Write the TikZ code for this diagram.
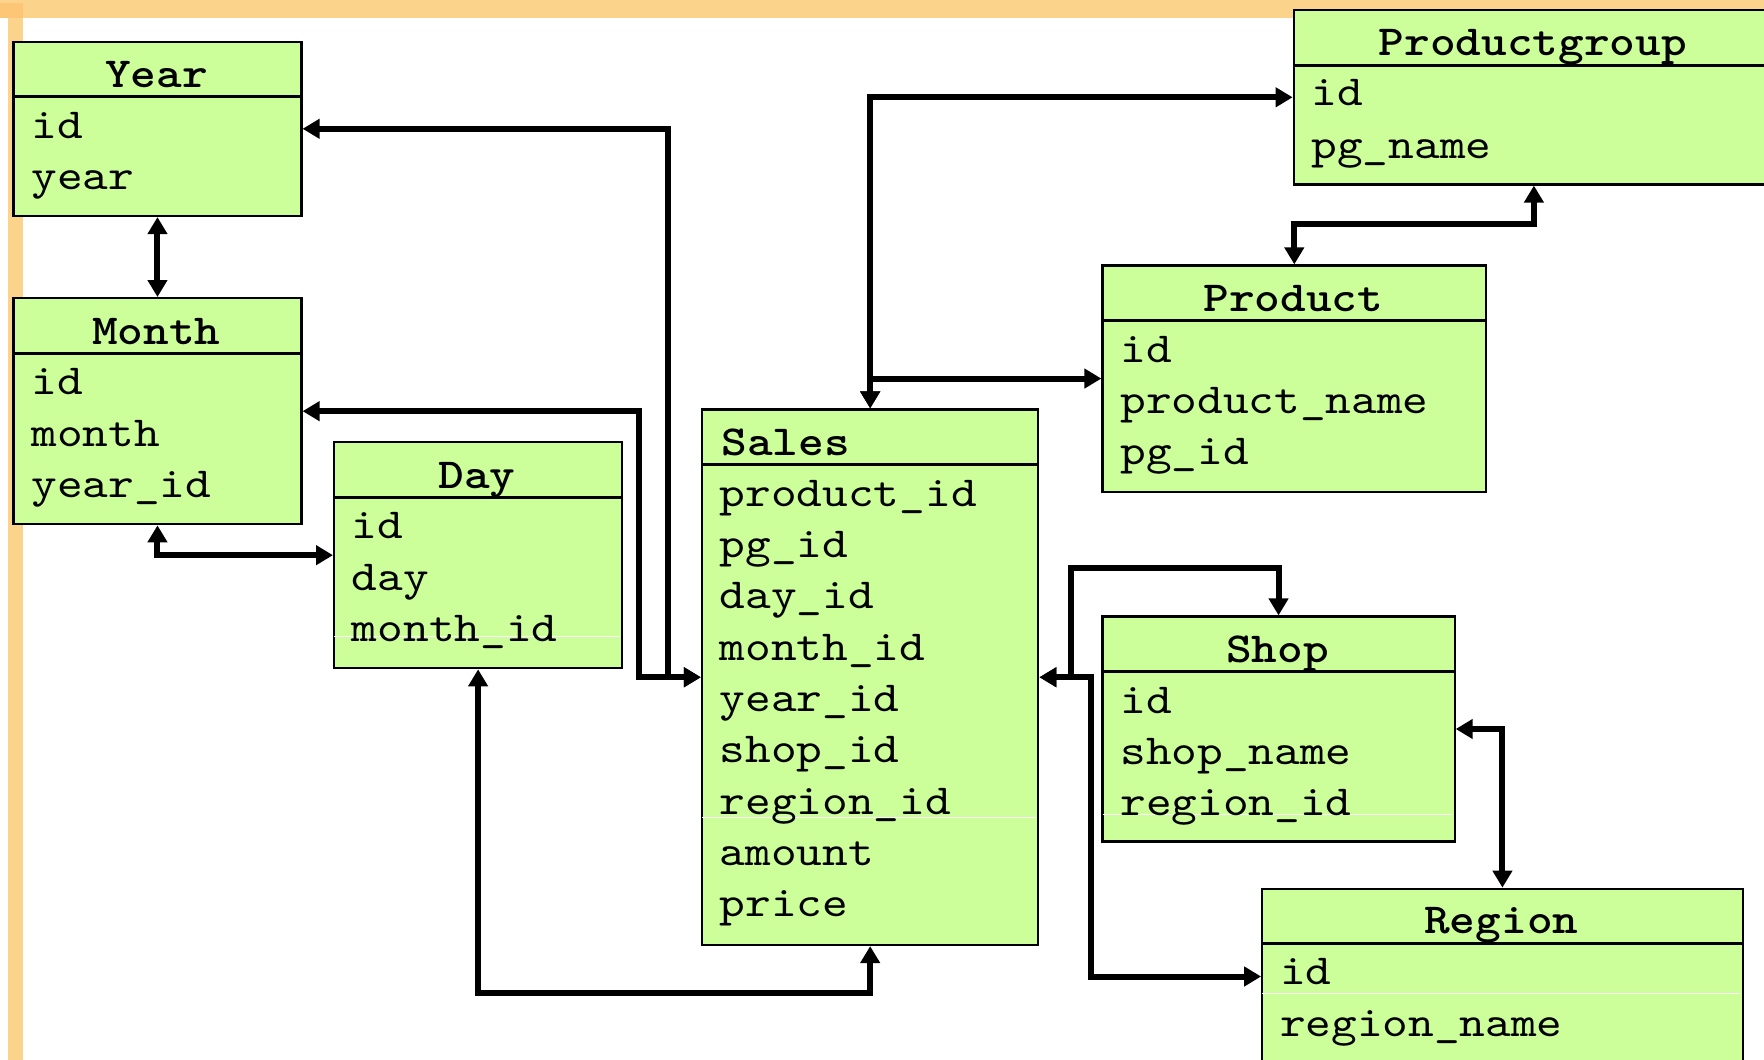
\documentclass[tikz,border=0pt]{standalone}
\usepackage{fontspec}
\usetikzlibrary{arrows.meta,calc}
\newfontfamily\courfont{lmmono10-regular.otf}[BoldFont=lmmonolt10-bold.otf,FakeStretch=1.143]
\definecolor{boxgreen}{HTML}{CCFF99}
\definecolor{frameorange}{HTML}{FBD38B}
\def\pxu{0.5625pt}
\begin{document}
\begin{tikzpicture}[x=0.5625pt,y=-0.5625pt,
  tbl/.style={draw=black,fill=boxgreen,line width=1.1pt,inner sep=0pt,anchor=north west,rectangle},
  hdrline/.style={line width=1.5pt},
  artline/.style={white,line width=0.5pt},
  conn/.style={line width=3pt,{Triangle[width=9.5pt,length=8.5pt]}-{Triangle[width=9.5pt,length=8.5pt]}},
  ttl/.style={anchor=base,inner sep=0pt,font=\fontsize{21.4}{26}\selectfont\courfont\bfseries},
  ttlw/.style={anchor=base west,inner sep=0pt,font=\fontsize{21.4}{26}\selectfont\courfont\bfseries},
  fld/.style={anchor=base west,inner sep=0pt,font=\fontsize{21.4}{26}\selectfont\courfont},
]
\useasboundingbox (0,0) rectangle (1568,942);
\clip (0,0) rectangle (1568,942);
\fill[white] (0,0) rectangle (1568,942);
% orange frame
\fill[frameorange] (0,0) rectangle (1568,16);
\fill[frameorange] (7,0) rectangle (20,942);
\fill[frameorange!85!orange] (0,3) rectangle (20,16);

% boxes
\node[tbl,minimum width=256*\pxu,minimum height=155*\pxu] (year) at (11,36) {};
\node[tbl,minimum width=256*\pxu,minimum height=201*\pxu] (month) at (11,264) {};
\node[tbl,minimum width=256*\pxu,minimum height=201*\pxu] (day) at (296,392) {};
\node[tbl,minimum width=299*\pxu,minimum height=476*\pxu] (sales) at (623,363) {};
\node[tbl,minimum width=427*\pxu,minimum height=155*\pxu] (pg) at (1149,8) {};
\node[tbl,minimum width=341*\pxu,minimum height=201*\pxu] (product) at (979,235) {};
\node[tbl,minimum width=313*\pxu,minimum height=200*\pxu] (shop) at (979,547) {};
\node[tbl,minimum width=427*\pxu,minimum height=156*\pxu] (region) at (1121,789) {};

% header lines
\foreach \b in {year,month,day,sales,pg,product,shop,region}
  \draw[hdrline] ($(\b.north west)+(0,50)$) -- ($(\b.north east)+(0,50)$);

% faint white artefact lines
\draw[artline] (297,566) -- (551,566);
\draw[artline] (624,727) -- (921,727);
\draw[artline] (980,724) -- (1291,724);
\draw[artline] (1122,883) -- (1547,883);

% titles
\node[ttl] (year-t) at (139,78) {Year};
\node[ttl] (month-t) at (139,306) {Month};
\node[ttl] (day-t) at (424,434) {Day};
\node[ttlw] (sales-t) at (641,405) {Sales};
\node[ttl] (pg-t) at (1362.5,49) {Productgroup};
\node[ttl] (product-t) at (1149.5,277) {Product};
\node[ttl] (shop-t) at (1135.5,589) {Shop};
\node[ttl] (region-t) at (1334.5,830) {Region};

% fields
\foreach \t [count=\i] in {id,year}
  \node[fld] (year-\i) at (27.5,{123.5+(\i-1)*44.5}) {\t};
\foreach \t [count=\i] in {id,month,year\_id}
  \node[fld] (month-\i) at (27.5,{351+(\i-1)*45.6}) {\t};
\foreach \t [count=\i] in {id,day,month\_id}
  \node[fld] (day-\i) at (312.5,{479+(\i-1)*45.6}) {\t};
\foreach \t [count=\i] in {product\_id,pg\_id,day\_id,month\_id,year\_id,shop\_id,region\_id,amount,price}
  \node[fld] (sales-\i) at (639.5,{450+(\i-1)*45.6}) {\t};
\foreach \t [count=\i] in {id,pg\_name}
  \node[fld] (pg-\i) at (1165.5,{94+(\i-1)*46.5}) {\t};
\foreach \t [count=\i] in {id,product\_name,pg\_id}
  \node[fld] (product-\i) at (995.5,{322+(\i-1)*45.6}) {\t};
\foreach \t [count=\i] in {id,shop\_name,region\_id}
  \node[fld] (shop-\i) at (995.5,{634+(\i-1)*45.6}) {\t};
\foreach \t [count=\i] in {id,region\_name}
  \node[fld] (region-\i) at (1137.5,{875+(\i-1)*46}) {\t};

% connectors
\draw[conn] (year.south) -- (month.north);
\draw[conn] (year.east) -| ($(sales.west)+(-29,0)$) -- (sales.west);
\draw[conn] (month.east) -| ($(sales.west)+(-55,0)$) -- (sales.west);
\draw[conn] (month.south) |- (day.west);
\draw[conn] (day.south) -- ++(0,288) -| (sales.south);
\draw[conn] (sales.north) |- (pg.west);
\draw[conn] (sales.north) |- (product.west);
\draw[conn] (product.north) -- ++(0,-36) -| (pg.south);
\draw[conn] (sales.east) -- ++(28,0) |- ($(shop.north)+(0,-42)$) -- (shop.north);
\draw[conn] (sales.east) -- ++(46,0) |- (region.west);
\draw[conn] (shop.east) -| (region.north);
\end{tikzpicture}
\end{document}
